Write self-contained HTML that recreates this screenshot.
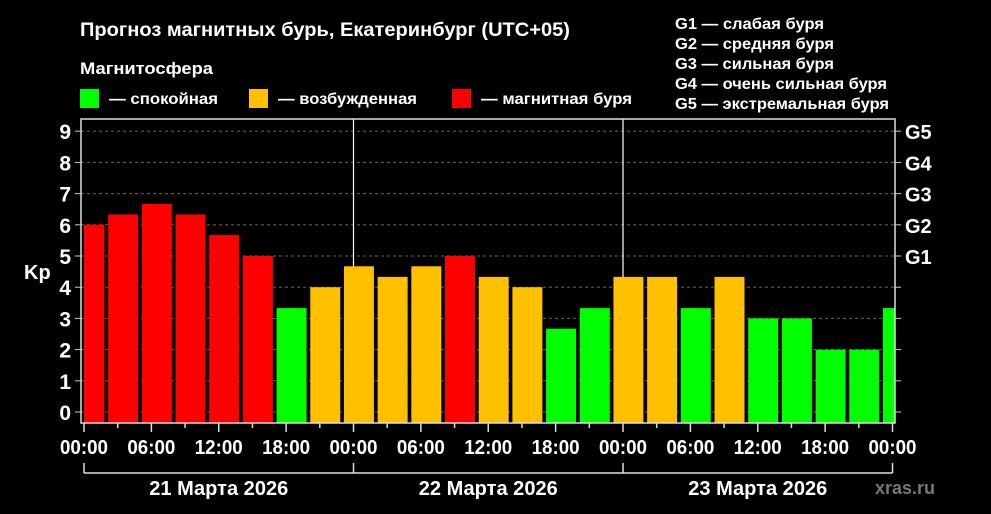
<!DOCTYPE html>
<html><head><meta charset="utf-8"><style>
html,body{margin:0;padding:0;background:#000;}
svg{display:block;font-family:"Liberation Sans",Arial,sans-serif;font-weight:bold;}
</style></head><body>
<svg id="c" width="991" height="514" viewBox="0 0 991 514">
<rect x="0" y="0" width="991" height="514" fill="#000"/>
<text x="80" y="36" fill="#fff" font-size="19" textLength="490" lengthAdjust="spacingAndGlyphs">Прогноз магнитных бурь, Екатеринбург (UTC+05)</text>
<text x="80" y="74" fill="#fff" font-size="17" textLength="133" lengthAdjust="spacingAndGlyphs">Магнитосфера</text>
<g><rect x="80" y="89" width="19" height="19" fill="#00ff00"/><text x="109" y="104" fill="#fff" font-size="16" textLength="109" lengthAdjust="spacingAndGlyphs">— спокойная</text></g>
<g><rect x="249" y="89" width="19" height="19" fill="#ffc000"/><text x="278" y="104" fill="#fff" font-size="16" textLength="139" lengthAdjust="spacingAndGlyphs">— возбужденная</text></g>
<g><rect x="452" y="89" width="19" height="19" fill="#ff0000"/><text x="481" y="104" fill="#fff" font-size="16" textLength="151" lengthAdjust="spacingAndGlyphs">— магнитная буря</text></g>
<g fill="#fff" font-size="16">
<text x="675" y="29" textLength="149" lengthAdjust="spacingAndGlyphs">G1 — слабая буря</text>
<text x="675" y="49" textLength="159" lengthAdjust="spacingAndGlyphs">G2 — средняя буря</text>
<text x="675" y="69" textLength="159" lengthAdjust="spacingAndGlyphs">G3 — сильная буря</text>
<text x="675" y="89" textLength="212" lengthAdjust="spacingAndGlyphs">G4 — очень сильная буря</text>
<text x="675" y="109" textLength="214" lengthAdjust="spacingAndGlyphs">G5 — экстремальная буря</text>
</g>
<text x="24" y="279" fill="#fff" font-size="20">Kp</text>
<text x="875" y="494" fill="#777" font-size="18" textLength="60" lengthAdjust="spacingAndGlyphs">xras.ru</text>
<g id="grid"></g><g id="bars"></g><g id="axes"></g>
</svg>
<script>
const kpValues=[6.0,6.33,6.67,6.33,5.67,5.0,3.33,4.0,4.67,4.33,4.67,5.0,4.33,4.0,2.67,3.33,4.33,4.33,3.33,4.33,3.0,3.0,2.0,2.0,3.33];
const yTicks=[0,1,2,3,4,5,6,7,8,9];
const gLabels=["G1","G2","G3","G4","G5"];
const xTickLabels=["00:00","06:00","12:00","18:00","00:00","06:00","12:00","18:00","00:00","06:00","12:00","18:00","00:00"];
const dayLabels=["21 Марта 2026","22 Марта 2026","23 Марта 2026"];
const NS="http://www.w3.org/2000/svg";
const L=81,R=895,T=119,B=423;
const x=h=>84+h*(808.5/72);
const y=v=>412-v*31.2;
function mk(tag,attrs,parent,txt){const e=document.createElementNS(NS,tag);for(const k in attrs)e.setAttribute(k,attrs[k]);if(txt!==undefined)e.textContent=txt;parent.appendChild(e);return e;}
const grid=document.getElementById('grid'),bars=document.getElementById('bars'),axes=document.getElementById('axes');
const clip=mk('clipPath',{id:'pc'},document.getElementById('c'));mk('rect',{x:84,y:T,width:R-84,height:B-T},clip);
bars.setAttribute('clip-path','url(#pc)');
yTicks.forEach(v=>{
 const g=mk('line',{x1:L,x2:R,y1:y(v),y2:y(v),stroke:'#666','stroke-dasharray':'3,3','stroke-width':1},grid);
 
 mk('line',{x1:L-6,x2:L,y1:y(v),y2:y(v),stroke:'#ccc'},axes);
 mk('line',{x1:R,x2:R+6,y1:y(v),y2:y(v),stroke:'#ccc'},axes);
 const lb=mk('text',{x:L-10,y:y(v)+8,fill:'#fff','font-size':21,'text-anchor':'end'},axes,String(v));
 
 
});
[24,48].forEach(h=>{
 const s=mk('line',{x1:x(h),x2:x(h),y1:T,y2:B,stroke:'#fff','stroke-width':1.2},grid);
 
 
});
gLabels.forEach((g,i)=>{
 const lb=mk('text',{x:905,y:y(5+i)+8,fill:'#fff','font-size':20},axes,g);
 
 
});
kpValues.forEach((v,k)=>{
 const c=v>=5?'#ff0000':(v>=4?'#ffc000':'#00ff00');
 const x0=x(3*k-0.85),x1=x(3*k+1.82);
 const b=mk('rect',{x:x0,y:y(v),width:x1-x0,height:B-y(v),fill:c},bars);
 
 
});
mk('rect',{x:L,y:T,width:R-L,height:B-T,fill:'none',stroke:'#ddd','stroke-width':1.5},axes);
for(let h=0;h<=72;h+=3){mk('line',{x1:x(h),x2:x(h),y1:B,y2:B+(h%6===0?9:5),stroke:'#ddd','stroke-width':1.5},axes);}
xTickLabels.forEach((s,i)=>{
 const t=mk('text',{x:x(i*6),y:454,fill:'#fff','font-size':20,'text-anchor':'middle',textLength:48,lengthAdjust:'spacingAndGlyphs'},axes,s);
 
 
});
mk('line',{x1:x(0),x2:x(72),y1:473,y2:473,stroke:'#ddd','stroke-width':1.5},axes);
[0,24,48,72].forEach(h=>mk('line',{x1:x(h),x2:x(h),y1:463,y2:473,stroke:'#ddd','stroke-width':1.5},axes));
dayLabels.forEach((s,i)=>{
 const t=mk('text',{x:x(i*24+12),y:495,fill:'#fff','font-size':20,'text-anchor':'middle',textLength:139,lengthAdjust:'spacingAndGlyphs'},axes,s);
 
 
});
</script>
</body></html>
